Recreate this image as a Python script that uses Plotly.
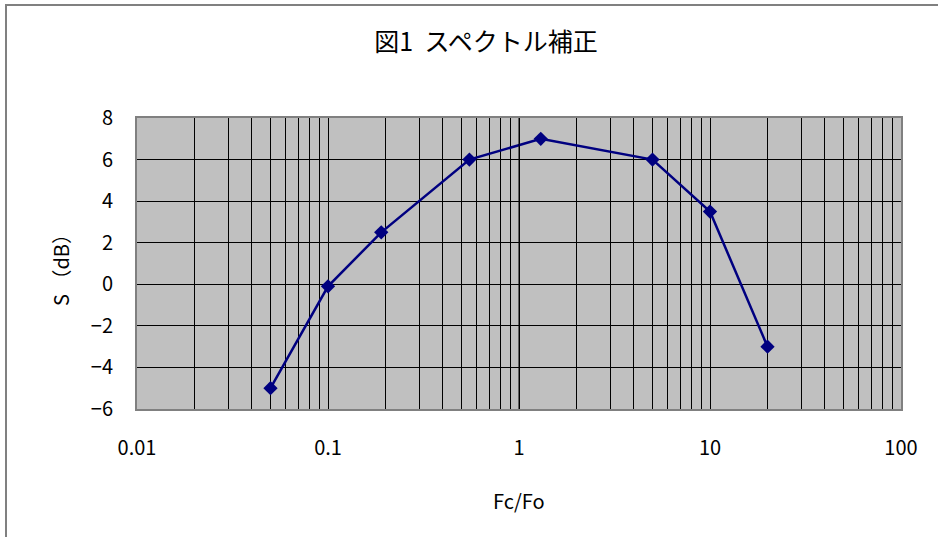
import plotly.graph_objects as go

fc_fo = [0.05, 0.1, 0.19, 0.55, 1.3, 5, 10, 20]
s_db = [-5, -0.1, 2.5, 6, 7, 6, 3.5, -3]
x_ticks = [0.01, 0.1, 1, 10, 100]
x_tick_labels = ["0.01", "0.1", "1", "10", "100"]
y_ticks = [-6, -4, -2, 0, 2, 4, 6, 8]
y_tick_labels = ["−6", "−4", "−2", "0", "2", "4", "6", "8"]

title_text = "図1  スペクトル補正"
x_title = "Fc/Fo"
y_title = "S （dB）"

FONT = "Noto Sans CJK JP"
W, H = 938, 537
L, R, T, B = 137, 37, 118, 128
pw, ph = W - L - R, H - T - B

def px(x):
    return (x - L) / pw

def py(y):
    return (H - B - y) / ph

fig = go.Figure()
fig.add_trace(go.Scatter(
    x=fc_fo, y=s_db, mode="lines+markers",
    line=dict(color="#000080", width=2.5),
    marker=dict(symbol="diamond", size=11, color="#000080"),
    showlegend=False, hoverinfo="x+y",
))

fig.update_layout(
    width=W, height=H,
    margin=dict(l=L, r=R, t=T, b=B),
    paper_bgcolor="white",
    plot_bgcolor="#C0C0C0",
    font=dict(family=FONT, color="black", size=19),
    title=dict(text=title_text, x=486 / W, xanchor="center",
               y=1 - 42 / H, yanchor="middle",
               font=dict(family=FONT, size=25, color="black")),
    shapes=[dict(type="rect", xref="paper", yref="paper",
                 x0=px(6), x1=px(950), y0=py(550), y1=py(5),
                 line=dict(color="#808080", width=2), layer="below")],
    annotations=[
        dict(text=x_title, xref="paper", yref="paper", x=px(519), y=py(500),
             showarrow=False, xanchor="center", yanchor="middle",
             font=dict(family=FONT, size=20)),
        dict(text=y_title, xref="paper", yref="paper", x=px(60), y=py(265),
             showarrow=False, xanchor="center", yanchor="middle", textangle=-90,
             font=dict(family=FONT, size=20)),
    ],
)

fig.update_xaxes(
    type="log", range=[-2, 2],
    tickvals=x_ticks, ticktext=x_tick_labels,
    ticks="outside", ticklen=20, tickcolor="rgba(0,0,0,0)",
    showgrid=True, gridcolor="black", gridwidth=1,
    minor=dict(showgrid=True, gridcolor="black", gridwidth=1, dtick="D1"),
    showline=True, linecolor="#808080", linewidth=2, mirror=True,
    zeroline=False, tickfont=dict(size=20),
)
fig.update_yaxes(
    range=[-6, 8],
    tickvals=y_ticks, ticktext=y_tick_labels,
    ticks="outside", ticklen=18, tickcolor="rgba(0,0,0,0)",
    showgrid=True, gridcolor="black", gridwidth=1,
    showline=True, linecolor="#808080", linewidth=2, mirror=True,
    zeroline=True, zerolinecolor="black", zerolinewidth=1,
    tickfont=dict(size=20),
)

fig.add_vline(x=1, line=dict(color="black", width=1))

fig.write_html("out.html", config={"displayModeBar": False},
               post_script="document.body.style.margin='0';document.body.style.overflow='hidden';")
